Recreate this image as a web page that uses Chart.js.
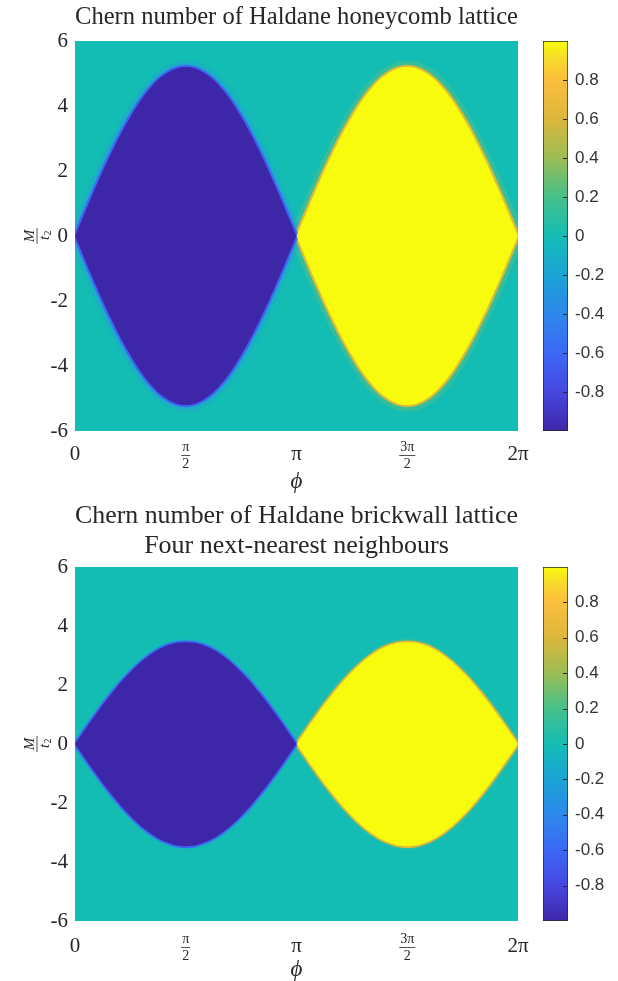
<!DOCTYPE html>
<html>
<head>
<meta charset="utf-8">
<script src="https://cdn.jsdelivr.net/npm/chart.js@4.4.1/dist/chart.umd.min.js"></script>
<style>
    body { margin: 0; background: #fff; width: 618px; height: 981px; position: relative; overflow: hidden; }
    canvas { position: absolute; }
</style>
</head>
<body>
<canvas id="honeycombChart" width="530" height="500" style="left:0;top:0"></canvas>
<canvas id="honeycombBarra" width="88" height="500" style="left:530px;top:0"></canvas>
<canvas id="brickwallChart" width="530" height="481" style="left:0;top:500px"></canvas>
<canvas id="brickwallBarra" width="88" height="481" style="left:530px;top:500px"></canvas>
<script>
// Datos
const faseEnPi = [0, 0.0833, 0.1667, 0.25, 0.3333, 0.4167, 0.5, 0.5833, 0.6667, 0.75, 0.8333, 0.9167, 1,
    1.0833, 1.1667, 1.25, 1.3333, 1.4167, 1.5, 1.5833, 1.6667, 1.75, 1.8333, 1.9167, 2];
const honeycombSuperior = [0, 1.35, 2.6, 3.67, 4.5, 5.02, 5.2, 5.02, 4.5, 3.67, 2.6, 1.35, 0,
    1.35, 2.6, 3.67, 4.5, 5.02, 5.2, 5.02, 4.5, 3.67, 2.6, 1.35, 0];
const honeycombInferior = [0, -1.35, -2.6, -3.67, -4.5, -5.02, -5.2, -5.02, -4.5, -3.67, -2.6, -1.35, 0,
    -1.35, -2.6, -3.67, -4.5, -5.02, -5.2, -5.02, -4.5, -3.67, -2.6, -1.35, 0];
const brickwallSuperior = [0, 0.9, 1.73, 2.44, 2.99, 3.34, 3.45, 3.34, 2.99, 2.44, 1.73, 0.9, 0,
    0.9, 1.73, 2.44, 2.99, 3.34, 3.45, 3.34, 2.99, 2.44, 1.73, 0.9, 0];
const brickwallInferior = [0, -0.9, -1.73, -2.44, -2.99, -3.34, -3.47, -3.34, -2.99, -2.44, -1.73, -0.9, 0,
    -0.9, -1.73, -2.44, -2.99, -3.34, -3.47, -3.34, -2.99, -2.44, -1.73, -0.9, 0];
const chernLobulos = [-1, 1];          // valor dentro de cada lóbulo
const chernFondo = 0;                  // valor fuera de los lóbulos
const faseTicks = [0, Math.PI / 2, Math.PI, 3 * Math.PI / 2, 2 * Math.PI];
const faseEtiquetas = ['0', 'π/2', 'π', '3π/2', '2π'];
const masaTicks = [-6, -4, -2, 0, 2, 4, 6];
const barraTicks = [-0.8, -0.6, -0.4, -0.2, 0, 0.2, 0.4, 0.6, 0.8];
const barraMin = -1;
const barraMax = 1;

// Mapa de color parula aproximado
const parulaPosiciones = [0, 0.1, 0.2, 0.3, 0.4, 0.5, 0.6, 0.7, 0.8, 0.9, 0.95, 1];
const parulaColores = ['#3e26a8', '#4747e0', '#3c68f5', '#2d88eb', '#1ba3d6', '#14bdb4',
    '#45c08a', '#9cbd55', '#dbb73c', '#fcbe3d', '#f6d82b', '#f9fb0e'];

const SERIF = '"Liberation Serif", "DejaVu Serif", serif';
const TEXTO = '#262626';

function hexRgb(h) {
    return [parseInt(h.slice(1, 3), 16), parseInt(h.slice(3, 5), 16), parseInt(h.slice(5, 7), 16)];
}

function colorParula(valor, alfa = 1) {
    let t = (valor - barraMin) / (barraMax - barraMin);
    t = Math.min(1, Math.max(0, t));
    let i = 0;
    while (i < parulaPosiciones.length - 2 && t > parulaPosiciones[i + 1]) i++;
    const f = (t - parulaPosiciones[i]) / (parulaPosiciones[i + 1] - parulaPosiciones[i]);
    const a = hexRgb(parulaColores[i]);
    const b = hexRgb(parulaColores[i + 1]);
    const c = a.map((v, k) => Math.round(v + (b[k] - v) * f));
    return `rgba(${c[0]},${c[1]},${c[2]},${alfa})`;
}

// Datasets de un lóbulo: relleno entre curvas y bordes difuminados
function datasetsLobulo(superior, inferior, desde, hasta, valor, halo) {
    const sup = [], inf = [];
    for (let i = desde; i <= hasta; i++) {
        sup.push({ x: faseEnPi[i] * Math.PI, y: superior[i] });
        inf.push({ x: faseEnPi[i] * Math.PI, y: inferior[i] });
    }
    const base = { pointRadius: 0, tension: 0.4, fill: false, clip: 0, borderColor: 'rgba(0,0,0,0)', borderWidth: 0 };
    return [
        { ...base, data: sup, fill: '+1', backgroundColor: colorParula(valor), order: 0 },
        { ...base, data: inf, order: 0 },
        { ...base, data: sup, borderColor: colorParula(valor * 0.6), borderWidth: halo.interior, order: 1 },
        { ...base, data: inf, borderColor: colorParula(valor * 0.6), borderWidth: halo.interior, order: 1 },
        { ...base, data: sup, borderColor: colorParula(valor * 0.3, halo.alfa), borderWidth: halo.exterior, order: 2 },
        { ...base, data: inf, borderColor: colorParula(valor * 0.3, halo.alfa), borderWidth: halo.exterior, order: 2 }
    ];
}

// Fondo del mapa (valor cero) y etiquetas de los ejes
const fondoMapa = {
    id: 'fondoMapa',
    beforeDatasetsDraw(chart) {
        const { ctx, chartArea } = chart;
        ctx.save();
        ctx.fillStyle = colorParula(chernFondo);
        ctx.fillRect(chartArea.left, chartArea.top, chartArea.right - chartArea.left, chartArea.bottom - chartArea.top);
        ctx.restore();
    }
};

const etiquetasEjes = {
    id: 'etiquetasEjes',
    afterDraw(chart, args, opts) {
        const { ctx, chartArea, scales } = chart;
        const dy = opts.dy || 0;
        ctx.save();
        ctx.fillStyle = TEXTO;
        ctx.strokeStyle = TEXTO;
        ctx.textAlign = 'center';
        ctx.textBaseline = 'middle';
        faseTicks.forEach((v, i) => {
            const x = scales.x.getPixelForValue(v);
            const txt = faseEtiquetas[i];
            if (txt.includes('/')) {
                const partes = txt.split('/');
                ctx.font = '14px ' + SERIF;
                ctx.fillText(partes[0], x, chartArea.bottom + dy + 16);
                ctx.fillText(partes[1], x, chartArea.bottom + dy + 33);
                const w = ctx.measureText(partes[0]).width + 2;
                ctx.lineWidth = 0.8;
                ctx.beginPath();
                ctx.moveTo(x - w / 2, chartArea.bottom + dy + 24.5);
                ctx.lineTo(x + w / 2, chartArea.bottom + dy + 24.5);
                ctx.stroke();
            } else {
                ctx.font = '21px ' + SERIF;
                ctx.fillText(txt, x, chartArea.bottom + dy + 23);
            }
        });
        // título eje x
        ctx.font = 'italic 23px ' + SERIF;
        ctx.fillText('ϕ', (chartArea.left + chartArea.right) / 2, chartArea.bottom + opts.phi);
        // título eje y (fracción M / t2 girada)
        ctx.translate(37, (chartArea.top + chartArea.bottom) / 2);
        ctx.rotate(-Math.PI / 2);
        ctx.font = 'italic 15px ' + SERIF;
        ctx.fillText('M', 0, -7);
        ctx.lineWidth = 0.8;
        ctx.beginPath();
        ctx.moveTo(-8, 0);
        ctx.lineTo(8, 0);
        ctx.stroke();
        ctx.fillText('t', -2, 8);
        ctx.font = '10px ' + SERIF;
        ctx.fillText('2', 3, 11);
        ctx.restore();
    }
};

// Función para crear el mapa de un panel
function crearPanel(id, titulo, superior, inferior, halo, caja) {
    const datasets = [
        ...datasetsLobulo(superior, inferior, 0, 12, chernLobulos[0], halo),
        ...datasetsLobulo(superior, inferior, 12, 24, chernLobulos[1], halo)
    ];
    new Chart(document.getElementById(id).getContext('2d'), {
        type: 'line',
        data: { datasets },
        options: {
            responsive: false,
            animation: false,
            events: [],
            layout: { padding: { left: 0, right: 12, top: 0, bottom: 0 } },
            plugins: {
                legend: { display: false },
                tooltip: { enabled: false },
                etiquetasEjes: { dy: caja.dy, phi: caja.phi },
                title: {
                    display: true,
                    fullSize: false,
                    text: titulo,
                    color: TEXTO,
                    font: { family: SERIF, size: 26, weight: 'normal', lineHeight: 1.154 },
                    padding: caja.titulo
                }
            },
            scales: {
                x: {
                    type: 'linear',
                    min: 0,
                    max: 2 * Math.PI,
                    afterBuildTicks: s => { s.ticks = faseTicks.map(v => ({ value: v })); },
                    afterFit: s => { s.height = caja.ejeX; },
                    ticks: { display: false },
                    grid: { display: false, drawTicks: false, tickLength: 0 },
                    border: { display: false }
                },
                y: {
                    type: 'linear',
                    min: -6,
                    max: 6,
                    afterBuildTicks: s => { s.ticks = masaTicks.map(v => ({ value: v })); },
                    afterFit: s => { s.width = 75; },
                    ticks: { font: { family: SERIF, size: 21 }, color: TEXTO, padding: 7 },
                    grid: { display: false, drawTicks: false, tickLength: 0 },
                    border: { display: false }
                }
            }
        },
        plugins: [fondoMapa, etiquetasEjes]
    });
}

// Marcas interiores de la barra de color
const marcasBarra = {
    id: 'marcasBarra',
    afterDatasetsDraw(chart) {
        const { ctx, chartArea, scales } = chart;
        ctx.save();
        ctx.strokeStyle = TEXTO;
        ctx.lineWidth = 1;
        barraTicks.forEach(v => {
            const y = Math.round(scales.y.getPixelForValue(v)) + 0.5;
            ctx.beginPath();
            ctx.moveTo(chartArea.right - 5, y);
            ctx.lineTo(chartArea.right - 1, y);
            ctx.stroke();
        });
        ctx.restore();
    }
};

// Función para crear la barra de color
function crearBarra(id, arriba, abajo) {
    new Chart(document.getElementById(id).getContext('2d'), {
        type: 'bar',
        data: {
            labels: [''],
            datasets: [{
                data: [[barraMin, barraMax]],
                backgroundColor: c => {
                    const area = c.chart.chartArea;
                    if (!area) return colorParula(0);
                    const y = c.chart.scales.y;
                    const g = c.chart.ctx.createLinearGradient(0, y.getPixelForValue(barraMin), 0, y.getPixelForValue(barraMax));
                    parulaPosiciones.forEach((p, i) => g.addColorStop(p, parulaColores[i]));
                    return g;
                },
                borderColor: TEXTO,
                borderWidth: 1,
                borderSkipped: false,
                barPercentage: 1,
                categoryPercentage: 1
            }]
        },
        options: {
            responsive: false,
            animation: false,
            events: [],
            layout: { padding: { left: 13, right: 0, top: arriba, bottom: abajo } },
            plugins: { legend: { display: false }, tooltip: { enabled: false } },
            scales: {
                x: { display: false },
                y: {
                    position: 'right',
                    min: barraMin,
                    max: barraMax,
                    afterBuildTicks: s => { s.ticks = barraTicks.map(v => ({ value: v })); },
                    afterFit: s => { s.width = 50; },
                    ticks: {
                        font: { family: '"Liberation Sans", Arial, sans-serif', size: 17 },
                        color: '#333',
                        padding: 7,
                        callback: v => String(Math.round(v * 10) / 10)
                    },
                    grid: { display: false, drawTicks: false, tickLength: 0 },
                    border: { display: false }
                }
            }
        },
        plugins: [marcasBarra]
    });
}

// Crear las gráficas cuando carga la página
crearPanel('honeycombChart', 'Chern number of Haldane honeycomb lattice',
    honeycombSuperior, honeycombInferior,
    { interior: 4.5, exterior: 13, alfa: 0.35 },
    { titulo: { top: 2, bottom: 9 }, ejeX: 69, dy: 0, phi: 51 });
crearBarra('honeycombBarra', 41, 69);

crearPanel('brickwallChart', ['Chern number of Haldane brickwall lattice', 'Four next-nearest neighbours'],
    brickwallSuperior, brickwallInferior,
    { interior: 3.5, exterior: 7, alfa: 0.25 },
    { titulo: { top: 1, bottom: 6 }, ejeX: 60, dy: 2, phi: 49 });
crearBarra('brickwallBarra', 67, 60);
</script>
</body>
</html>
